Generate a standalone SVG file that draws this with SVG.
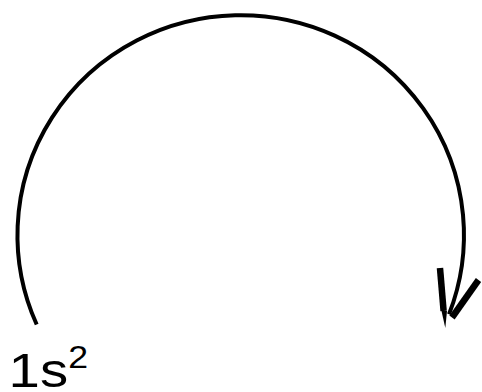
<svg xmlns="http://www.w3.org/2000/svg" width="482" height="392" viewBox="0 0 482 392">
<style>
.arc{fill:none;stroke:#000;stroke-width:4}
.bar{stroke:#000;stroke-width:6.5;stroke-linecap:butt}
.lbl{font-family:"Liberation Sans",Arial,sans-serif;fill:#000}
</style>
<rect width="482" height="392" fill="#fff"/>
<g id="connectors">
<path class="arc" d="M 36.7 324.5 A 223.25 220 0 1 1 449 314.3"/>
<g id="arrowhead">
<line class="bar" x1="440" y1="268" x2="443.6" y2="311"/>
<line class="bar" x1="478.5" y1="280" x2="452" y2="317.5"/>
<polygon points="441.5,311 447,311 445.3,328" fill="#000"/>
</g>
</g>
<g id="label">
<text class="lbl" transform="scale(1.15,1)" x="7.5" y="387" font-size="49">1s<tspan font-size="31" dy="-19">2</tspan></text>
</g>
</svg>
